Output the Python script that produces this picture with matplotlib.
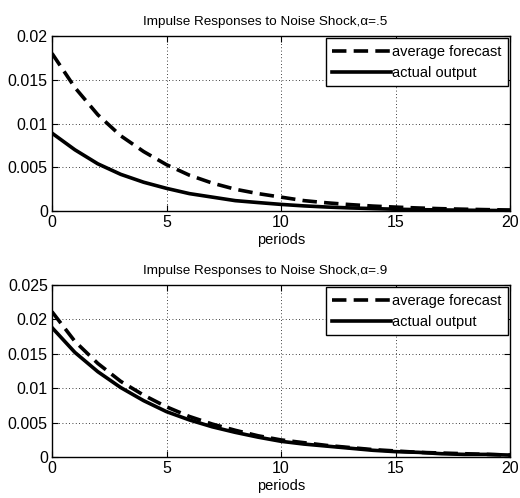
import matplotlib
matplotlib.use("Agg")
import matplotlib.pyplot as plt
import numpy as np

plt.rcParams['font.family'] = ['Liberation Sans', 'DejaVu Sans']

periods = list(range(0, 21))

# alpha = .5
forecast_a5 = [0.0180, 0.0141, 0.0110, 0.0086, 0.0068, 0.0053, 0.0041, 0.0032, 0.0025,
               0.0020, 0.0016, 0.0012, 0.00095, 0.00075, 0.00058, 0.00046, 0.00036,
               0.00028, 0.00022, 0.00017, 0.00013]
output_a5 = [0.0089, 0.0070, 0.0054, 0.0042, 0.0033, 0.0026, 0.0020, 0.0016, 0.0012,
             0.00098, 0.00077, 0.0006, 0.00047, 0.00037, 0.00029, 0.00022, 0.00017,
             0.00014, 0.00011, 0.00008, 0.00007]

# alpha = .9
forecast_a9 = [0.0211, 0.0168, 0.0136, 0.0110, 0.0090, 0.0073, 0.0059, 0.0048, 0.0039,
               0.0031, 0.0025, 0.0021, 0.0017, 0.0014, 0.0011, 0.0009, 0.0007, 0.0006,
               0.0005, 0.0004, 0.0003]
output_a9 = [0.0188, 0.0152, 0.0124, 0.0101, 0.0082, 0.0066, 0.0054, 0.0044, 0.0036,
             0.0029, 0.0023, 0.0019, 0.0016, 0.0013, 0.0010, 0.0008, 0.0007, 0.0005,
             0.0004, 0.0004, 0.0003]

titles = ["Impulse Responses to Noise Shock,\u03b1=.5", "Impulse Responses to Noise Shock,\u03b1=.9"]
yticks_top = [0, 0.005, 0.01, 0.015, 0.02]
ytick_labels_top = ["0", "0.005", "0.01", "0.015", "0.02"]
yticks_bot = [0, 0.005, 0.01, 0.015, 0.02, 0.025]
ytick_labels_bot = ["0", "0.005", "0.01", "0.015", "0.02", "0.025"]
xticks = [0, 5, 10, 15, 20]

fig = plt.figure(figsize=(5.2, 4.98), dpi=100)
ax1 = fig.add_axes([0.100, 0.576, 0.881, 0.352])
ax2 = fig.add_axes([0.100, 0.082, 0.881, 0.346])

def style(ax, fc, oc, title, yt, ytl):
    ax.plot(periods, fc, color='black', lw=2.6, ls=(0, (4, 2)), label='average forecast',
            solid_joinstyle='round', dash_joinstyle='round')
    ax.plot(periods, oc, color='black', lw=2.6, ls='-', label='actual output',
            solid_joinstyle='round')
    ax.set_xlim(0, 20)
    ax.set_ylim(yt[0], yt[-1])
    ax.set_xticks(xticks)
    ax.set_xticklabels([str(x) for x in xticks])
    ax.set_yticks(yt)
    ax.set_yticklabels(ytl)
    ax.tick_params(direction='in', length=4, width=0.8, labelsize=11.5, top=True, right=True, pad=3)
    ax.grid(True, color='black', ls=(0, (1, 3)), lw=0.6)
    for s in ax.spines.values():
        s.set_linewidth(1.0)
        s.set_color('black')
    ax.set_title(title, fontsize=9.7, pad=8, x=0.465)
    ax.set_xlabel('periods', fontsize=10.5, labelpad=2)
    leg = ax.legend(loc='upper right', fontsize=10.5, frameon=True, fancybox=False,
                    edgecolor='black', framealpha=1, handlelength=4.0, handletextpad=0.1,
                    borderpad=0.45, labelspacing=0.5, borderaxespad=0.15)
    leg.get_frame().set_linewidth(1.0)

style(ax1, forecast_a5, output_a5, titles[0], yticks_top, ytick_labels_top)
style(ax2, forecast_a9, output_a9, titles[1], yticks_bot, ytick_labels_bot)

fig.savefig('out.png', dpi=100)
